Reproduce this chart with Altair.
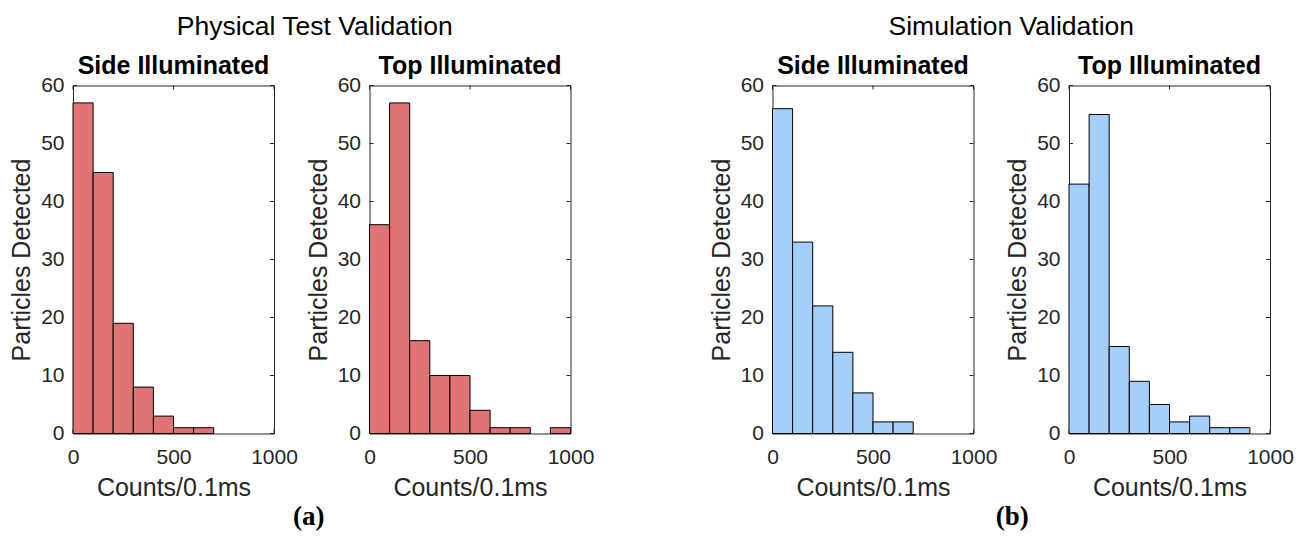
import altair as alt
import pandas as pd

# ---------------- data ----------------
BIN_LO = [0, 100, 200, 300, 400, 500, 600, 700, 800, 900]
BIN_HI = [100, 200, 300, 400, 500, 600, 700, 800, 900, 1000]

PHYS_SIDE = [57, 45, 19, 8, 3, 1, 1, 0, 0, 0]
PHYS_TOP = [36, 57, 16, 10, 10, 4, 1, 1, 0, 1]
SIM_SIDE = [56, 33, 22, 14, 7, 2, 2, 0, 0, 0]
SIM_TOP = [43, 55, 15, 9, 5, 2, 3, 1, 1, 0]

X_TICKS = [0, 500, 1000]
Y_TICKS = [0, 10, 20, 30, 40, 50, 60]

PANEL_TITLES = ["Side Illuminated", "Top Illuminated"]
GROUP_TITLES = ["Physical Test Validation", "Simulation Validation"]
CAPTIONS = ["(a)", "(b)"]
X_TITLE = "Counts/0.1ms"
Y_TITLE = "Particles Detected"

RED = "#E07474"
BLUE = "#A5CFFB"
AXC = "#262626"
FONT = "Liberation Sans"

W, H = 201, 348
TL = 4  # inward tick length


def xenc(field):
    return alt.X(
        field,
        scale=alt.Scale(domain=[0, 1000], nice=False, zero=False),
        axis=alt.Axis(values=X_TICKS, title=X_TITLE, format="d", ticks=False, tickSize=0,
                      domain=False, grid=False, labelFlush=False,
                      labelFont=FONT, labelFontSize=21, labelColor=AXC,
                      labelPadding=13, titleFont=FONT, titleFontSize=25,
                      titleFontWeight="normal", titleColor=AXC, titlePadding=8),
    )


def yenc(field):
    return alt.Y(
        field,
        scale=alt.Scale(domain=[0, 60], nice=False, zero=False),
        axis=alt.Axis(values=Y_TICKS, title=Y_TITLE, format="d", ticks=False, tickSize=0,
                      domain=False, grid=False, labelFlush=False,
                      labelFont=FONT, labelFontSize=21, labelColor=AXC,
                      labelPadding=9, titleFont=FONT, titleFontSize=25,
                      titleFontWeight="normal", titleColor=AXC, titlePadding=6),
    )


def panel(vals, title, color):
    df = pd.DataFrame({"lo": BIN_LO, "hi": BIN_HI, "n": vals})
    df = df[df["n"] > 0]
    xt = pd.DataFrame({"v": X_TICKS})
    yt = pd.DataFrame({"v": Y_TICKS})
    tick_b = alt.Chart(xt).mark_rule(color=AXC, strokeWidth=1).encode(
        x=xenc("v:Q"), y=alt.value(H), y2=alt.value(H - TL))
    tick_t = alt.Chart(xt).mark_rule(color=AXC, strokeWidth=1).encode(
        x=xenc("v:Q"), y=alt.value(0), y2=alt.value(TL))
    tick_l = alt.Chart(yt).mark_rule(color=AXC, strokeWidth=1).encode(
        y=yenc("v:Q"), x=alt.value(0), x2=alt.value(TL))
    tick_r = alt.Chart(yt).mark_rule(color=AXC, strokeWidth=1).encode(
        y=yenc("v:Q"), x=alt.value(W - TL), x2=alt.value(W))
    bars = alt.Chart(df).mark_rect(color=color, stroke="#000000", strokeWidth=1).encode(
        x=xenc("lo:Q"), x2="hi:Q", y=yenc("n:Q"), y2=alt.datum(0))
    return alt.layer(tick_b, tick_t, tick_l, tick_r, bars).properties(
        width=W, height=H,
        title=alt.TitleParams(title, font=FONT, fontSize=25, fontWeight="bold",
                              color="#000000", anchor="middle", offset=-4),
    )


def group(a, b, gtitle, caption, color, title_dx, cap_dx):
    inner = alt.hconcat(
        panel(a, PANEL_TITLES[0], color),
        panel(b, PANEL_TITLES[1], color),
        spacing=7.5,
        title=alt.TitleParams(gtitle, font=FONT, fontSize=26.5, fontWeight="normal",
                              color="#000000", anchor="middle", offset=12.5, dx=title_dx),
    )
    return alt.vconcat(
        inner,
        title=alt.TitleParams(caption, orient="bottom", font="Liberation Serif",
                              fontSize=27, fontWeight="bold", color="#000000",
                              anchor="middle", offset=3, dx=cap_dx),
    )


chart = alt.hconcat(
    group(PHYS_SIDE, PHYS_TOP, GROUP_TITLES[0], CAPTIONS[0], RED, 13, 7),
    group(SIM_SIDE, SIM_TOP, GROUP_TITLES[1], CAPTIONS[1], BLUE, 10, 11),
    spacing=113.5,
).properties(
    padding={"left": 9, "top": 13.5, "right": 5, "bottom": 5},
    background="white",
).configure_view(stroke=AXC, strokeWidth=1)

chart.save("out.html", embed_options={"renderer": "svg", "actions": False})
